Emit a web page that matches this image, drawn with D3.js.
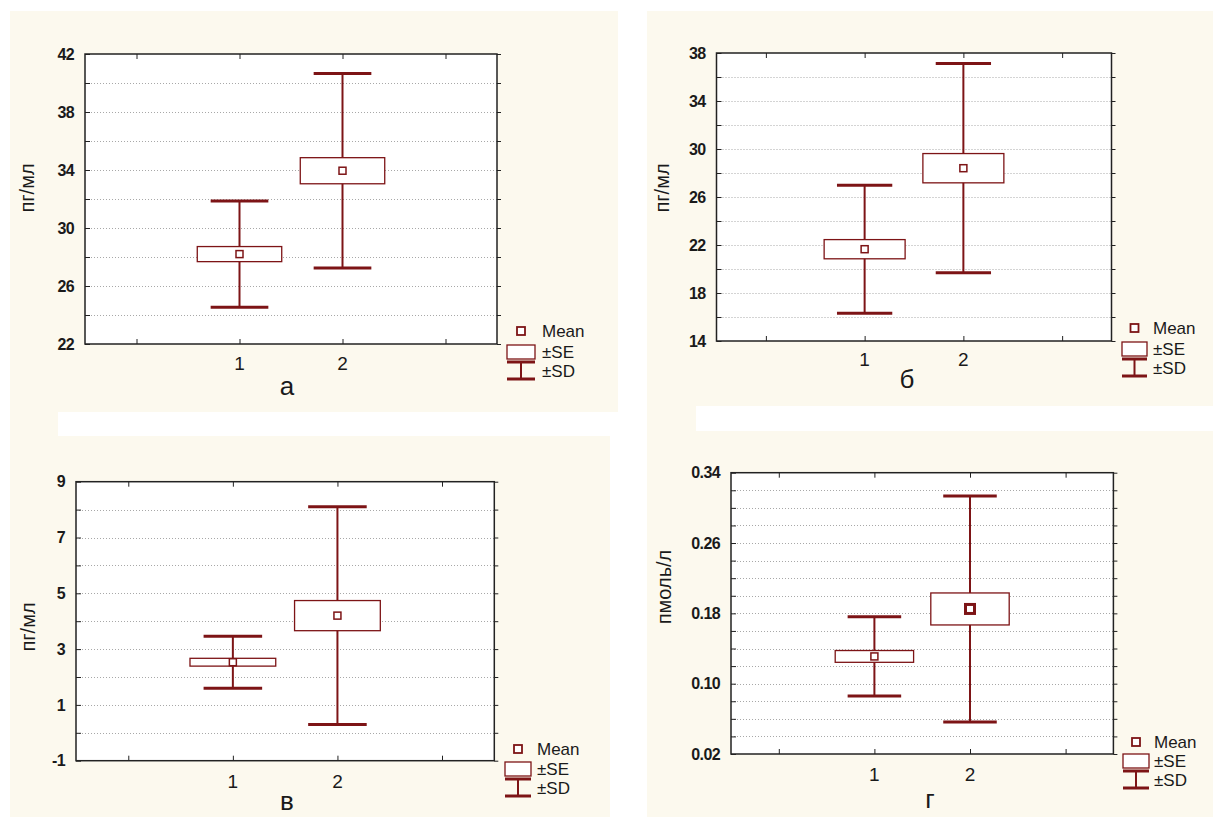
<!DOCTYPE html>
<html>
<head>
<meta charset="utf-8">
<script src="https://cdn.jsdelivr.net/npm/d3@7"></script>
<style>
  body { margin: 0; background: #ffffff; }
  svg { display: block; }
  .ytick { font-family: "Liberation Sans Narrow", "Liberation Sans", Arial, sans-serif; font-weight: bold; font-size: 16px; letter-spacing: -0.6px; fill: #1a1a1a; }
  .xtick { font-family: "Liberation Sans", Arial, sans-serif; font-size: 19px; fill: #1a1a1a; }
  .ytitle { font-family: "Liberation Sans", Arial, sans-serif; font-size: 20px; fill: #1a1a1a; }
  .sub { font-family: "Liberation Sans", Arial, sans-serif; font-size: 26px; fill: #1a1a1a; }
  .leg { font-family: "Liberation Sans", Arial, sans-serif; font-size: 17px; fill: #1a1a1a; }
</style>
</head>
<body>
<div id="chart"></div>
<script>
// groups on the x axis
var groups = [1, 2];
var xTickVals = [0, 1, 2, 3];

// panel а (пг/мл)
var meanA = [28.2, 33.95];
var seA = [0.52, 0.9];
var sdA = [3.67, 6.7];
var ticksA = [22, 26, 30, 34, 38, 42];

// panel б (пг/мл)
var meanB = [21.65, 28.4];
var seB = [0.8, 1.22];
var sdB = [5.33, 8.72];
var ticksB = [14, 18, 22, 26, 30, 34, 38];

// panel в (пг/мл)
var meanC = [2.53, 4.2];
var seC = [0.14, 0.54];
var sdC = [0.93, 3.9];
var ticksC = [-1, 1, 3, 5, 7, 9];

// panel г (пмоль/л)
var meanD = [0.131, 0.185];
var seD = [0.0067, 0.0182];
var sdD = [0.045, 0.1286];
var ticksD = [0.02, 0.10, 0.18, 0.26, 0.34];

var legendLabels = ["Mean", "\u00b1SE", "\u00b1SD"];

var dark = "#7d1416";
var cream = "#fcf9ee";

var svg = d3.select("#chart").append("svg")
  .attr("width", 1213)
  .attr("height", 817);

// collage background
svg.append("rect").attr("x", 10).attr("y", 11).attr("width", 608).attr("height", 806).attr("fill", cream);
svg.append("rect").attr("x", 58).attr("y", 412).attr("width", 562).attr("height", 24).attr("fill", "#ffffff");
svg.append("rect").attr("x", 610).attr("y", 436).attr("width", 10).attr("height", 381).attr("fill", "#ffffff");
svg.append("rect").attr("x", 647).attr("y", 11).attr("width", 566).attr("height", 806).attr("fill", cream);
svg.append("rect").attr("x", 696).attr("y", 406).attr("width", 517).attr("height", 25).attr("fill", "#ffffff");

var intFmt = function (d) { return String(d); };

var panels = [
  {mean: meanA, se: seA, sd: sdA, ticks: ticksA, minor: 2, fmt: intFmt,
   box: [85, 54, 497, 344], title: "пг/мл", tx: 27, ty: 188, sub: "а", sx: 287, sy: 395,
   legX: 507, legW: 28, legT: 542, rows: [331, 352, 371], xlabY: 370, thick: [false, false]},
  {mean: meanB, se: seB, sd: sdB, ticks: ticksB, minor: 2, fmt: intFmt,
   box: [716.5, 53, 1111.5, 341], title: "пг/мл", tx: 662, ty: 188, sub: "б", sx: 907, sy: 388,
   legX: 1122, legW: 25, legT: 1153, rows: [328, 349, 368], xlabY: 366, thick: [false, false]},
  {mean: meanC, se: seC, sd: sdC, ticks: ticksC, minor: 1, fmt: intFmt,
   box: [76, 481.7, 494.3, 760.7], title: "пг/мл", tx: 28, ty: 627, sub: "в", sx: 287, sy: 810,
   legX: 505, legW: 26, legT: 537, rows: [749, 769, 788], xlabY: 788, thick: [false, false]},
  {mean: meanD, se: seD, sd: sdD, ticks: ticksD, minor: 0.02, fmt: d3.format(".2f"),
   box: [731, 472.7, 1113.4, 754], title: "пмоль/л", tx: 664, ty: 587, sub: "г", sx: 930, sy: 808,
   legX: 1123, legW: 26, legT: 1154, rows: [742, 761, 780], xlabY: 781, thick: [false, true]}
];

panels.forEach(drawPanel);

function drawPanel(p) {
  var L = p.box[0], T = p.box[1], R = p.box[2], B = p.box[3];
  var lo = p.ticks[0], hi = p.ticks[p.ticks.length - 1];

  var x = d3.scaleLinear().domain([-0.5, 3.5]).range([L, R]);
  var y = d3.scaleLinear().domain([lo, hi]).range([B, T]);
  var step = x(1) - x(0);

  var g = svg.append("g");

  // plot area
  g.append("rect").attr("x", L).attr("y", T).attr("width", R - L).attr("height", B - T)
    .attr("fill", "#ffffff");

  // minor values for grid
  var n = Math.round((hi - lo) / p.minor);
  var gridVals = d3.range(1, n).map(function (i) { return lo + i * p.minor; });

  g.selectAll(".grid").data(gridVals).join("line")
    .attr("x1", L).attr("x2", R)
    .attr("y1", function (d) { return Math.round(y(d)) + 0.5; })
    .attr("y2", function (d) { return Math.round(y(d)) + 0.5; })
    .attr("stroke", "#a8a8a8").attr("stroke-width", 1).attr("stroke-dasharray", "1,2");

  // axes: inner ticks (major + minor)
  var allVals = d3.range(0, n + 1).map(function (i) { return lo + i * p.minor; });
  var tickStyle = function (a) { a.select(".domain").remove(); a.selectAll("line").attr("stroke", "#222"); };
  g.append("g").attr("transform", "translate(" + L + ",0)")
    .call(d3.axisLeft(y).tickValues(allVals).tickSize(-5).tickFormat("")).call(tickStyle);
  g.append("g").attr("transform", "translate(" + R + ",0)")
    .call(d3.axisRight(y).tickValues(allVals).tickSize(4).tickFormat("")).call(tickStyle);
  g.append("g").attr("transform", "translate(0," + B + ")")
    .call(d3.axisBottom(x).tickValues(xTickVals).tickSize(-5).tickFormat("")).call(tickStyle);
  g.append("g").attr("transform", "translate(0," + T + ")")
    .call(d3.axisTop(x).tickValues(xTickVals).tickSize(-5).tickFormat("")).call(tickStyle);

  // frame
  g.append("rect").attr("x", L).attr("y", T).attr("width", R - L).attr("height", B - T)
    .attr("fill", "none").attr("stroke", "#222").attr("stroke-width", 1.5);

  // y tick labels
  g.selectAll(".ytick").data(p.ticks).join("text")
    .attr("class", "ytick")
    .attr("x", L - 11).attr("y", function (d) { return y(d); })
    .attr("dy", "0.36em").attr("text-anchor", "end")
    .text(function (d) { return p.fmt(d); });

  // x tick labels
  g.selectAll(".xtick").data(groups).join("text")
    .attr("class", "xtick")
    .attr("x", function (d) { return x(d); }).attr("y", p.xlabY)
    .attr("text-anchor", "middle")
    .text(function (d) { return d; });

  // y title
  g.append("text").attr("class", "ytitle")
    .attr("transform", "translate(" + p.tx + "," + p.ty + ") rotate(-90)")
    .attr("text-anchor", "middle").attr("dy", "0.35em")
    .text(p.title);

  // sub label
  g.append("text").attr("class", "sub")
    .attr("x", p.sx).attr("y", p.sy).attr("text-anchor", "middle")
    .text(p.sub);

  var rows = groups.map(function (d, i) {
    return {g: d, m: p.mean[i], se: p.se[i], sd: p.sd[i], thick: p.thick[i]};
  });

  var capW = 0.28 * step, boxW = 0.41 * step;

  // SD whiskers
  g.selectAll(".sdv").data(rows).join("line")
    .attr("x1", function (d) { return x(d.g); }).attr("x2", function (d) { return x(d.g); })
    .attr("y1", function (d) { return y(d.m + d.sd); }).attr("y2", function (d) { return y(d.m - d.sd); })
    .attr("stroke", dark).attr("stroke-width", 2);
  g.selectAll(".sdt").data(rows).join("line")
    .attr("x1", function (d) { return x(d.g) - capW; }).attr("x2", function (d) { return x(d.g) + capW; })
    .attr("y1", function (d) { return y(d.m + d.sd); }).attr("y2", function (d) { return y(d.m + d.sd); })
    .attr("stroke", dark).attr("stroke-width", 3);
  g.selectAll(".sdb").data(rows).join("line")
    .attr("x1", function (d) { return x(d.g) - capW; }).attr("x2", function (d) { return x(d.g) + capW; })
    .attr("y1", function (d) { return y(d.m - d.sd); }).attr("y2", function (d) { return y(d.m - d.sd); })
    .attr("stroke", dark).attr("stroke-width", 3);

  // SE boxes
  g.selectAll(".se").data(rows).join("rect")
    .attr("x", function (d) { return x(d.g) - boxW; })
    .attr("width", 2 * boxW)
    .attr("y", function (d) { return y(d.m + d.se); })
    .attr("height", function (d) { return y(d.m - d.se) - y(d.m + d.se); })
    .attr("fill", "#ffffff").attr("stroke", dark).attr("stroke-width", 1.3);

  // mean markers
  g.selectAll(".mean").data(rows).join("rect")
    .attr("x", function (d) { return x(d.g) - (d.thick ? 4.5 : 3.5); })
    .attr("y", function (d) { return y(d.m) - (d.thick ? 4.5 : 3.5); })
    .attr("width", function (d) { return d.thick ? 9 : 7; })
    .attr("height", function (d) { return d.thick ? 9 : 7; })
    .attr("fill", "#ffffff").attr("stroke", dark)
    .attr("stroke-width", function (d) { return d.thick ? 3 : 1.5; });

  // legend
  var lx = p.legX, lw = p.legW, cx = lx + lw / 2, r = p.rows;
  var lg = svg.append("g");
  lg.append("rect").attr("x", cx - 4).attr("y", r[0] - 4).attr("width", 8).attr("height", 8)
    .attr("fill", "#ffffff").attr("stroke", dark).attr("stroke-width", 1.8);
  lg.append("rect").attr("x", lx).attr("y", r[1] - 7).attr("width", lw).attr("height", 14)
    .attr("fill", "#ffffff").attr("stroke", dark).attr("stroke-width", 1.3);
  lg.append("line").attr("x1", lx).attr("x2", lx + lw).attr("y1", r[1] + 10).attr("y2", r[1] + 10)
    .attr("stroke", dark).attr("stroke-width", 3);
  lg.append("line").attr("x1", cx).attr("x2", cx).attr("y1", r[1] + 10).attr("y2", r[2] + 8)
    .attr("stroke", dark).attr("stroke-width", 2);
  lg.append("line").attr("x1", lx).attr("x2", lx + lw).attr("y1", r[2] + 8).attr("y2", r[2] + 8)
    .attr("stroke", dark).attr("stroke-width", 3);
  lg.selectAll(".leg").data(legendLabels).join("text")
    .attr("class", "leg")
    .attr("x", p.legT).attr("y", function (d, i) { return r[i]; })
    .attr("dy", "0.36em")
    .text(function (d) { return d; });
}
</script>
</body>
</html>
